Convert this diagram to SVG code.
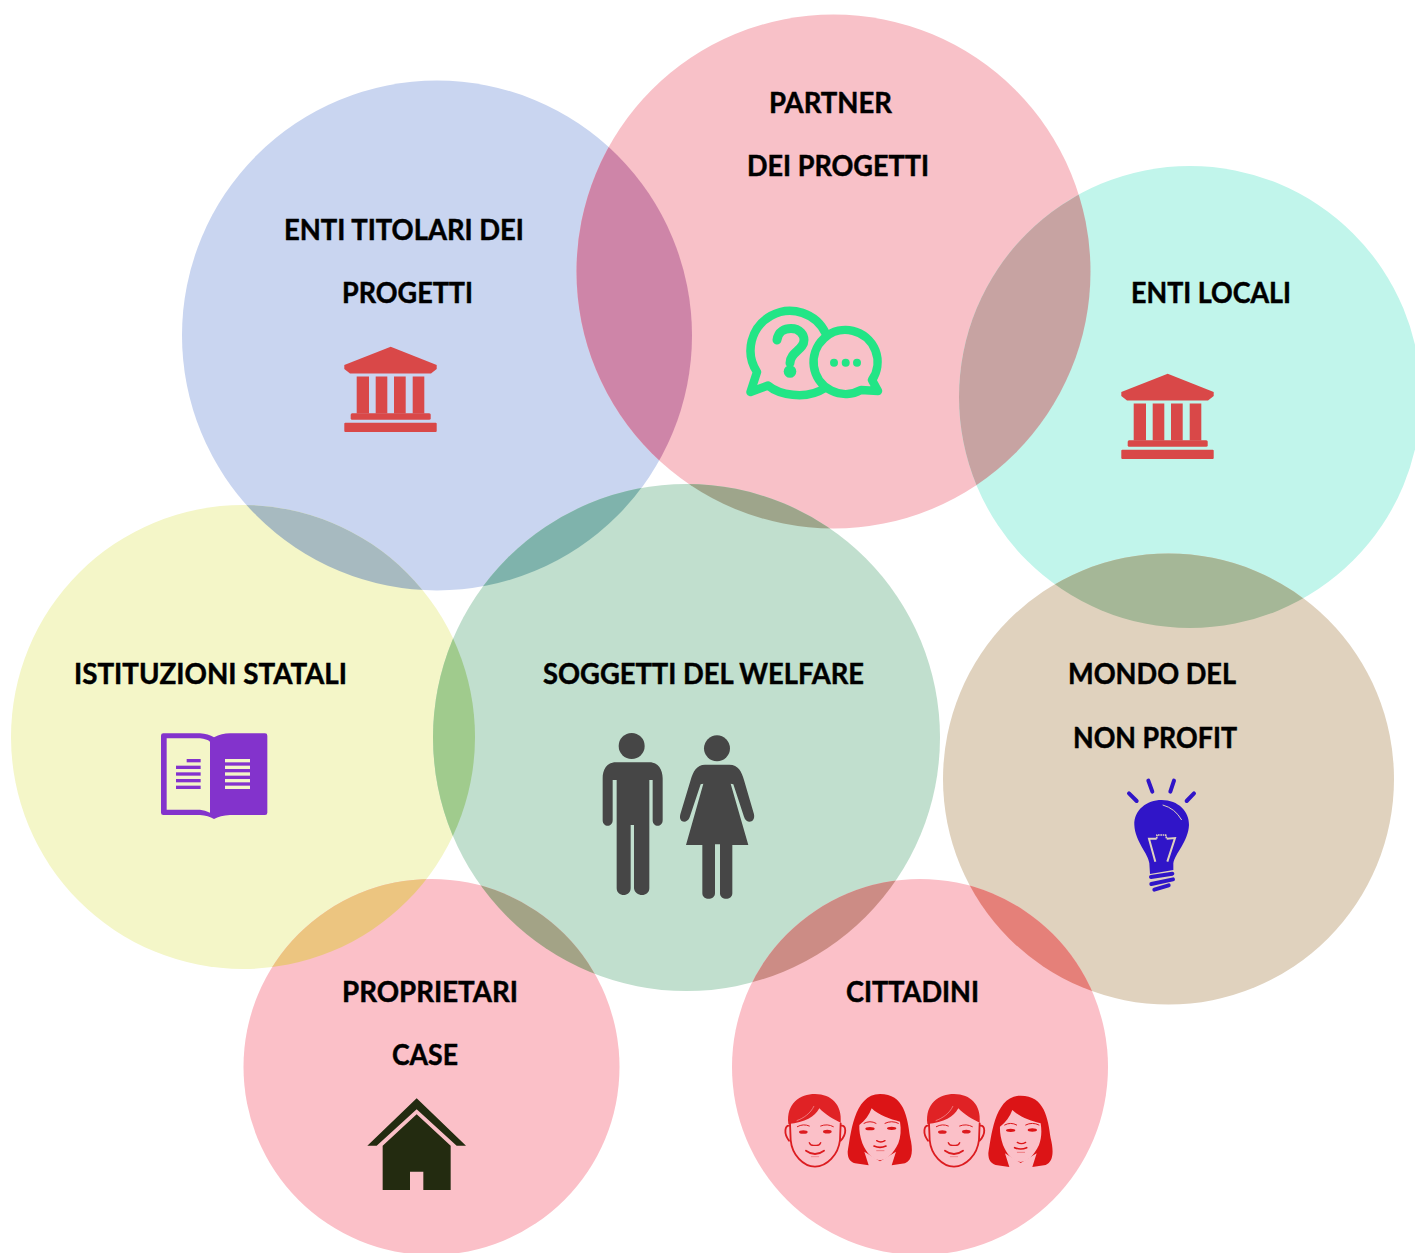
<svg xmlns="http://www.w3.org/2000/svg" xmlns:xlink="http://www.w3.org/1999/xlink" width="1415" height="1253" viewBox="0 0 1415 1253">
<style>
text{font-family:"Lato","Carlito","Liberation Sans",sans-serif;font-weight:700;font-size:28px;fill:#000;stroke:#000;stroke-width:.45px}
.bl{fill:#C9D5F0}.pk{fill:#F8C1C8}.te{fill:#C1F5EB}.ye{fill:#F4F6C8}.gr{fill:#C1DFCE}.ta{fill:#E0D2BE}.pk2{fill:#FBC0C8}
.bank{fill:#D94848}.ppl{fill:#464646}
.chat{fill:none;stroke:#22E586;stroke-width:8.500;stroke-linejoin:round;stroke-linecap:round}
</style>
<defs>
<clipPath id="cBlue"><circle cx="437" cy="335.5" r="255"/></clipPath>
<clipPath id="cPink"><circle cx="833.5" cy="271.5" r="257"/></clipPath>
<clipPath id="cTeal"><circle cx="1190" cy="397" r="231"/></clipPath>
<clipPath id="cYellow"><circle cx="243" cy="737" r="232"/></clipPath>
<clipPath id="cGreen"><circle cx="686.5" cy="737.5" r="253.5"/></clipPath>
<clipPath id="cTan"><circle cx="1168.5" cy="779" r="225.5"/></clipPath>
<g id="bank">
<path class="bank" d="M390.7 346.7L436.7 365V369L431 373.500H350L344.3 369V365Z"/>
<rect class="bank" x="356.7" y="376.500" width="12.3" height="37"/>
<rect class="bank" x="375.7" y="376.500" width="11.6" height="37"/>
<rect class="bank" x="394" y="376.500" width="11.7" height="37"/>
<rect class="bank" x="412.7" y="376.500" width="11.6" height="37"/>
<rect class="bank" x="350.7" y="413.3" width="80" height="6.500" rx="1.5"/>
<rect class="bank" x="344.3" y="422.7" width="92.4" height="9.300" rx="1"/>
</g>
<g id="man">
<path d="M55 132C48 70 90 42 135 42C185 42 217 75 212 128C190 118 165 103 148 85C135 110 105 128 55 132Z" fill="#E02225"/>
<path d="M80 122C100 115 122 100 132 78" fill="none" stroke="#F5A0A5" stroke-width="2"/>
<g fill="none" stroke="#DC1C20" stroke-width="5.500" stroke-linecap="round">
<path d="M60 130L62 180C66 225 100 260 135 260C170 260 205 225 210 180L212 130"/>
<path d="M58 137C45 135 40 160 57 182M214 137C228 135 232 160 212 182"/>
<path d="M108 212Q135 232 162 212"/>
<path d="M118 188Q122 198 135 196Q148 198 152 188" stroke-width="4"/>
<path d="M82 140Q100 130 118 138M152 138Q172 130 190 140" stroke-width="3"/>
<path d="M124 230H146" stroke-width="2" stroke-opacity=".5"/>
</g>
<ellipse cx="100" cy="156" rx="13" ry="5.5" fill="#DC1C20"/>
<ellipse cx="172" cy="155" rx="13" ry="5.5" fill="#DC1C20"/>
</g>
<g id="woman">
<path d="M233 215C242 170 250 42 330 42C402 42 412 110 420 170C430 210 428 240 405 250L365 256L378 215L330 244L283 215L296 256L255 250C240 245 233 235 233 215Z" fill="#DC1416"/>
<path d="M268 135C285 122 298 105 305 85C325 105 360 118 390 125C394 150 392 170 385 190C370 222 350 240 330 241C310 240 290 222 277 190C270 170 267 150 268 135Z" fill="#FBC0C8"/>
<g fill="none" stroke="#DC1416" stroke-linecap="round">
<path d="M282 130Q300 120 318 130M345 130Q365 120 385 130" stroke-width="3"/>
<path d="M320 182Q332 190 345 182" stroke-width="4"/>
<path d="M312 198Q330 206 348 198" stroke-width="5"/>
<path d="M320 212H342" stroke-width="2" stroke-opacity=".6"/>
</g>
<ellipse cx="300" cy="146" rx="14" ry="5" fill="#DC1416"/>
<ellipse cx="365" cy="145" rx="14" ry="5" fill="#DC1416"/>
</g>
</defs>

<rect width="1415" height="1253" fill="#fff"/>

<g id="node-enti-titolari">
<circle class="bl" cx="437" cy="335.5" r="255"/>
<text x="284" y="239.500" textLength="240" lengthAdjust="spacingAndGlyphs">ENTI TITOLARI DEI</text>
<text x="342" y="302.500" textLength="131" lengthAdjust="spacingAndGlyphs">PROGETTI</text>
<use xlink:href="#bank" href="#bank"/>
</g>

<g id="node-partner">
<circle class="pk" cx="833.5" cy="271.5" r="257"/>
<text x="769" y="112.500" textLength="123" lengthAdjust="spacingAndGlyphs">PARTNER</text>
<text x="747" y="175.500" textLength="182" lengthAdjust="spacingAndGlyphs">DEI PROGETTI</text>
<g>
<path class="chat" d="M826 334A39.5 39.5 0 1 0 757 372L750.5 392L768 385.500C778 394 805 401 825 388"/>
<path class="chat" d="M872 380A32 32 0 1 0 861 390L878 391Z"/>
<path d="M777 340C778 331 785 328.500 791 328.500C800 328.500 804 335 804 340C804 350 790 352 790 363" fill="none" stroke="#22E586" stroke-width="9" stroke-linecap="round"/>
<g fill="#22E586"><circle cx="790" cy="371.500" r="6.300"/><circle cx="834" cy="362.700" r="4"/><circle cx="845.700" cy="362.700" r="4"/><circle cx="857" cy="362.700" r="4"/></g>
</g>
</g>

<g id="node-enti-locali">
<circle class="te" cx="1190" cy="397" r="231"/>
<text x="1131" y="302.500" textLength="160" lengthAdjust="spacingAndGlyphs">ENTI LOCALI</text>
<use xlink:href="#bank" href="#bank" transform="translate(777 27)"/>
</g>

<g id="node-istituzioni">
<circle class="ye" cx="243" cy="737" r="232"/>
<text x="74" y="683.500" textLength="273" lengthAdjust="spacingAndGlyphs">ISTITUZIONI STATALI</text>
<g transform="translate(150 720) scale(.33333)">
<path fill="#8333CC" d="M35 40L150 40Q175 42 192 52Q215 40 240 40L345 40Q352 40 352 47L352 278Q352 285 345 285L240 285Q210 287 192 297Q175 287 150 285L40 285Q33 285 33 278L33 47Q33 40 40 40Z"/>
<path fill="#F4F6C8" d="M50 55L150 55Q170 57 180 65L180 278Q165 270 150 269L50 269Z"/>
<g fill="#8333CC"><rect x="110" y="117" width="42" height="10"/><rect x="78" y="137" width="74" height="10"/><rect x="78" y="157" width="74" height="10"/><rect x="78" y="177" width="74" height="10"/><rect x="78" y="197" width="74" height="10"/></g>
<g fill="#F4F6C8"><rect x="225" y="117" width="75" height="10"/><rect x="225" y="137" width="75" height="10"/><rect x="225" y="157" width="75" height="10"/><rect x="225" y="177" width="75" height="10"/><rect x="225" y="197" width="75" height="10"/></g>
</g>
</g>

<g id="node-soggetti">
<circle class="gr" cx="686.5" cy="737.5" r="253.5"/>
<text x="543" y="683.500" textLength="321" lengthAdjust="spacingAndGlyphs">SOGGETTI DEL WELFARE</text>
<g transform="translate(590 725) scale(.33333)">
<circle class="ppl" cx="125" cy="63" r="39"/>
<path class="ppl" d="M78 112L178 112C205 112 218 135 218 160L218 286C218 308 188 308 188 286L188 165L178 165L178 490C178 517 135 517 132 490L132 300L122 300L122 490C122 517 80 517 80 490L80 165L68 165L68 286C68 308 38 308 38 286L38 160C38 135 50 112 78 112Z"/>
<circle class="ppl" cx="381" cy="70" r="39"/>
<path class="ppl" d="M345 119L418 119C445 119 455 140 462 165L492 268C497 295 468 298 462 275L430 178L422 176L475 360L427 360L427 505C427 527 390 527 390 505L390 358L375 358L375 505C375 527 337 527 337 505L337 360L288 360L340 176L332 178L299 277C292 297 264 295 271 268L302 165C309 140 320 119 345 119Z"/>
</g>
</g>

<g id="node-non-profit">
<circle class="ta" cx="1168.500" cy="779" r="225.500"/>
<text x="1068" y="683.500" textLength="168" lengthAdjust="spacingAndGlyphs">MONDO DEL</text>
<text x="1073" y="747.500" textLength="164" lengthAdjust="spacingAndGlyphs">NON PROFIT</text>
<g transform="translate(1110 770) scale(.33333)">
<g fill="none" stroke="#3015C8" stroke-width="12" stroke-linecap="round">
<path d="M57 70L80 93M115 32L127 65M192 32L181 65M252 70L230 93"/>
<path d="M123 321L187 311M124 342L189 328M133 359L176 346"/>
</g>
<path fill="#3015C8" d="M120 312L118 280C115 250 75 215 73 165C72 120 110 90 155 90C205 90 238 125 237 165C235 215 195 250 190 280L190 300Z"/>
<path d="M136 275L117 206L140 206M172 275L195 204L170 206" fill="none" stroke="#E0D2BE" stroke-width="6"/>
<path d="M140 206L141 195H167L170 206" fill="none" stroke="#E0D2BE" stroke-width="5" stroke-dasharray="5 2"/>
<path d="M158 105Q195 115 215 150" fill="none" stroke="#E0D2BE" stroke-width="3"/>
</g>
</g>

<g id="node-proprietari">
<circle class="pk2" cx="431.500" cy="1067" r="188"/>
<text x="342" y="1001.500" textLength="176" lengthAdjust="spacingAndGlyphs">PROPRIETARI</text>
<text x="392" y="1064.500" textLength="66" lengthAdjust="spacingAndGlyphs">CASE</text>
<g transform="translate(360 1090) scale(.33333)" fill="#232B10">
<path d="M170 25L318 167L290 167L170 58L50 167L22 167Z"/>
<path d="M170 73L272 167L272 300L190 300L190 245L150 245L150 300L68 300L68 167Z"/>
</g>
</g>

<g id="node-cittadini">
<circle class="pk2" cx="920" cy="1067" r="188"/>
<text x="846" y="1001.500" textLength="133" lengthAdjust="spacingAndGlyphs">CITTADINI</text>
<g transform="translate(770 1080) scale(.33333)">
<use xlink:href="#man" href="#man"/>
<use xlink:href="#woman" href="#woman"/>
<use xlink:href="#man" href="#man" transform="translate(417 0)"/>
<use xlink:href="#woman" href="#woman" transform="translate(422 5)"/>
</g>
</g>

<g id="overlaps">
<g clip-path="url(#cBlue)"><circle cx="833.500" cy="271.500" r="257" fill="#CE85A8"/></g>
<g clip-path="url(#cPink)"><circle cx="1190" cy="397" r="231" fill="#C7A3A2"/></g>
<g clip-path="url(#cGreen)"><circle cx="437" cy="335.500" r="255" fill="#7FB3AC"/></g>
<g clip-path="url(#cGreen)"><circle cx="833.500" cy="271.500" r="257" fill="#9EA58B"/></g>
<g clip-path="url(#cYellow)"><circle cx="437" cy="335.500" r="255" fill="#A7BAC0"/></g>
<g clip-path="url(#cYellow)"><circle cx="686.500" cy="737.500" r="253.500" fill="#A0CB8D"/></g>
<g clip-path="url(#cYellow)"><circle cx="431.500" cy="1067" r="188" fill="#ECC580"/></g>
<g clip-path="url(#cGreen)"><circle cx="431.500" cy="1067" r="188" fill="#A3A386"/></g>
<g clip-path="url(#cGreen)"><circle cx="920" cy="1067" r="188" fill="#CC8C85"/></g>
<g clip-path="url(#cTan)"><circle cx="920" cy="1067" r="188" fill="#E58079"/></g>
<g clip-path="url(#cTeal)"><circle cx="1168.500" cy="779" r="225.500" fill="#A5B797"/></g>
</g>
</svg>
